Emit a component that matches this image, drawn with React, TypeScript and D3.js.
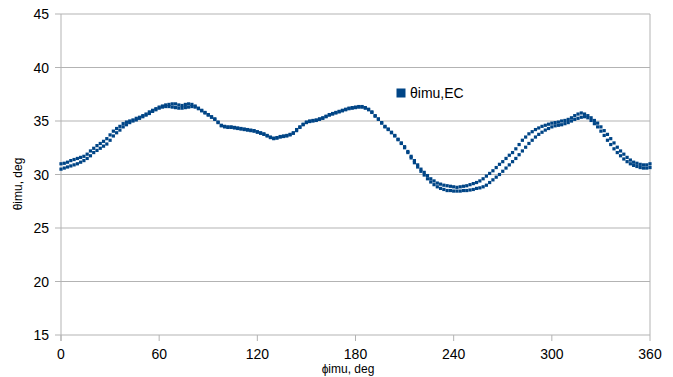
import React from "react";
import * as d3 from "d3";

const phi = [0,2,4,6,8,10,12,14,16,18,20,22,24,26,28,30,32,34,36,38,40,42,44,46,48,50,52,54,56,58,60,62,64,66,68,70,72,74,76,78,80,82,84,86,88,90,92,94,96,98,100,102,104,106,108,110,112,114,116,118,120,122,124,126,128,130,132,134,136,138,140,142,144,146,148,150,152,154,156,158,160,162,164,166,168,170,172,174,176,178,180,182,184,186,188,190,192,194,196,198,200,202,204,206,208,210,212,214,216,218,220,222,224,226,228,230,232,234,236,238,240,242,244,246,248,250,252,254,256,258,260,262,264,266,268,270,272,274,276,278,280,282,284,286,288,290,292,294,296,298,300,302,304,306,308,310,312,314,316,318,320,322,324,326,328,330,332,334,336,338,340,342,344,346,348,350,352,354,356,358,360];

// upper pass of the loop
const thetaA = [31.0,31.05,31.15,31.3,31.4,31.5,31.6,31.7,31.9,32.2,32.45,32.7,32.9,33.1,33.35,33.7,34.05,34.3,34.5,34.75,34.9,35.0,35.1,35.25,35.35,35.5,35.65,35.85,36.0,36.15,36.3,36.4,36.5,36.55,36.6,36.6,36.5,36.45,36.55,36.6,36.55,36.4,36.2,36.0,35.8,35.6,35.4,35.2,34.9,34.6,34.5,34.45,34.45,34.4,34.35,34.3,34.25,34.2,34.15,34.1,34.0,33.9,33.8,33.65,33.5,33.4,33.45,33.55,33.6,33.65,33.75,33.9,34.2,34.45,34.7,34.9,35.0,35.05,35.1,35.2,35.3,35.45,35.6,35.7,35.8,35.9,36.0,36.1,36.2,36.25,36.3,36.35,36.35,36.25,36.1,35.85,35.5,35.2,34.85,34.5,34.25,33.95,33.65,33.3,32.95,32.6,32.15,31.7,31.3,30.9,30.5,30.2,29.9,29.6,29.4,29.2,29.1,29.0,28.95,28.9,28.85,28.8,28.85,28.9,28.95,29.05,29.15,29.25,29.4,29.6,29.85,30.1,30.35,30.65,30.95,31.2,31.5,31.8,32.05,32.4,32.8,33.2,33.5,33.8,34.0,34.2,34.35,34.5,34.6,34.7,34.8,34.85,34.9,35.0,35.05,35.15,35.3,35.5,35.65,35.75,35.65,35.5,35.3,35.05,34.8,34.45,34.1,33.75,33.35,32.95,32.55,32.2,31.9,31.6,31.35,31.15,31.05,30.95,30.9,30.9,31.0];

// lower pass of the loop
const thetaB = [30.5,30.6,30.7,30.8,30.9,31.0,31.15,31.3,31.5,31.75,32.05,32.25,32.45,32.65,32.85,33.2,33.6,33.9,34.15,34.45,34.65,34.85,35.0,35.1,35.25,35.4,35.55,35.7,35.9,36.05,36.2,36.3,36.35,36.35,36.3,36.25,36.2,36.2,36.25,36.3,36.35,36.3,36.15,35.95,35.75,35.55,35.35,35.15,34.85,34.55,34.45,34.4,34.4,34.35,34.3,34.25,34.2,34.15,34.1,34.05,33.95,33.85,33.75,33.6,33.45,33.35,33.4,33.5,33.55,33.6,33.7,33.85,34.1,34.4,34.65,34.85,34.95,35.0,35.05,35.15,35.25,35.4,35.55,35.65,35.75,35.85,35.95,36.05,36.15,36.2,36.25,36.3,36.3,36.2,36.05,35.8,35.45,35.15,34.8,34.45,34.2,33.9,33.6,33.25,32.9,32.5,32.05,31.55,31.1,30.7,30.3,29.95,29.6,29.3,29.05,28.85,28.7,28.6,28.5,28.5,28.45,28.45,28.45,28.5,28.5,28.55,28.6,28.7,28.75,28.85,29.0,29.25,29.5,29.75,30.0,30.3,30.6,30.9,31.2,31.5,31.85,32.2,32.55,32.9,33.2,33.5,33.75,33.95,34.15,34.3,34.45,34.55,34.6,34.65,34.75,34.85,35.0,35.15,35.25,35.35,35.4,35.3,35.05,34.75,34.45,34.05,33.65,33.2,32.8,32.4,32.05,31.75,31.45,31.2,31.0,30.85,30.75,30.65,30.6,30.6,30.65];

const xTicks = [0, 60, 120, 180, 240, 300, 360];
const yTicks = [15, 20, 25, 30, 35, 40, 45];
const seriesName = "θimu,EC";
const xTitle = "ϕimu, deg";
const yTitle = "θimu, deg";

const W = 673;
const H = 377;
const COLOR = "#004586";
const GRID = "#b3b3b3";
const FONT = "'Liberation Sans', Arial, sans-serif";

export default function App() {
  const x = d3.scaleLinear().domain([0, 360]).range([61, 650]);
  const y = d3.scaleLinear().domain([15, 45]).range([335, 14]);
  const pts = [
    ...phi.map((p, i) => [p, thetaA[i]]),
    ...phi.map((p, i) => [p, thetaB[i]]),
  ];
  const m = 3.2;
  return (
    <svg
      width={W}
      height={H}
      style={{ position: "absolute", left: 0, top: 0, background: "#fff" }}
      fontFamily={FONT}
    >
      <rect x={0} y={0} width={W} height={H} fill="#fff" />
      {yTicks.map((t) => (
        <g key={"y" + t}>
          <line x1={55} x2={650} y1={y(t)} y2={y(t)} stroke={GRID} strokeWidth={1} />
          <text x={49} y={y(t) + 5} textAnchor="end" fontSize={14} fill="#000">
            {t}
          </text>
        </g>
      ))}
      <line x1={x(0)} x2={x(0)} y1={y(45)} y2={y(15) + 6} stroke={GRID} strokeWidth={1} />
      <line x1={x(360)} x2={x(360)} y1={y(45)} y2={y(15)} stroke={GRID} strokeWidth={1} />
      {xTicks.map((t) => (
        <g key={"x" + t}>
          <line x1={x(t)} x2={x(t)} y1={y(15)} y2={y(15) + 6} stroke={GRID} strokeWidth={1} />
          <text x={x(t)} y={359} textAnchor="middle" fontSize={14} fill="#000">
            {t}
          </text>
        </g>
      ))}
      <text x={348} y={373} textAnchor="middle" fontSize={12} fill="#000">
        {xTitle}
      </text>
      <text
        transform={`translate(22,184) rotate(-90)`}
        textAnchor="middle"
        fontSize={12}
        fill="#000"
      >
        {yTitle}
      </text>
      {pts.map(([p, v], i) => (
        <rect key={i} x={x(p) - m / 2} y={y(v) - m / 2} width={m} height={m} fill={COLOR} />
      ))}
      <rect x={396.5} y={88.5} width={9} height={9} fill={COLOR} />
      <text x={410} y={98} fontSize={14} fill="#000">
        {seriesName}
      </text>
    </svg>
  );
}
